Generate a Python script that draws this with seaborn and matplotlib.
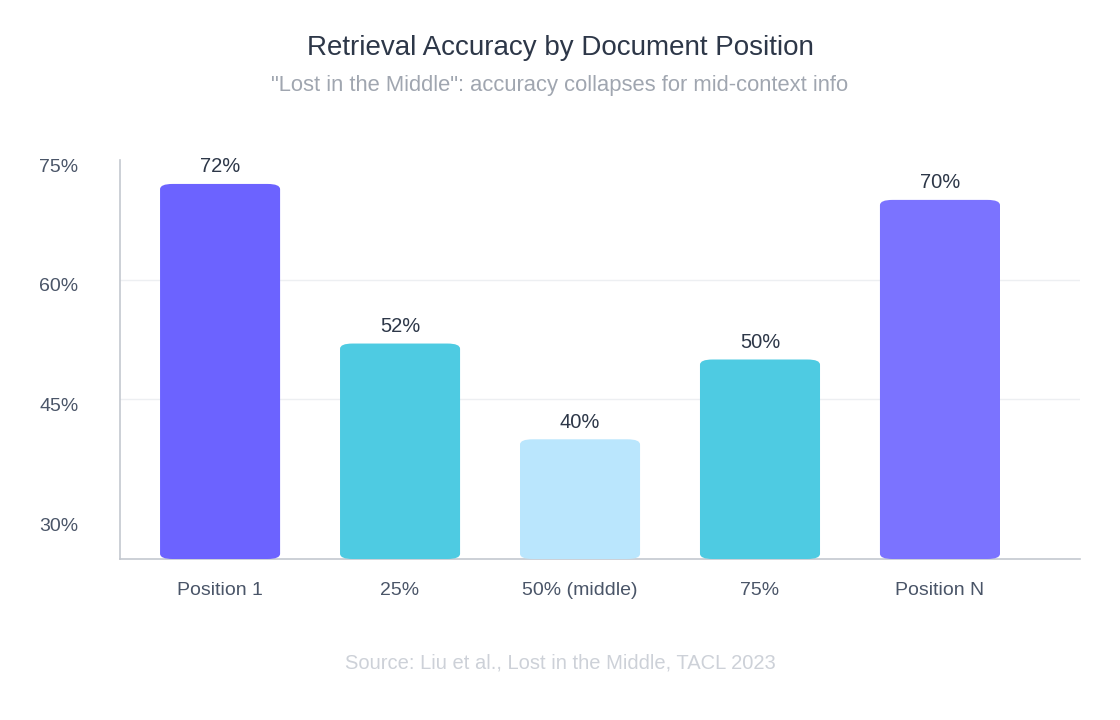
import numpy as np
import pandas as pd
import matplotlib
matplotlib.use("Agg")
import matplotlib.pyplot as plt
import matplotlib.transforms as mtransforms
from matplotlib.patches import FancyBboxPatch
import seaborn as sns

# Retrieval accuracy (%) by where the relevant document sits in the context
positions = ["Position 1", "25%", "50% (middle)", "75%", "Position N"]
accuracy = [72, 52, 40, 50, 70]
bar_colors = ["#6C63FF", "#4ECBE2", "#BAE6FD", "#4ECBE2", "#7B73FF"]
y_ticks = [30, 45, 60, 75]

data = pd.DataFrame({"position": positions, "accuracy": accuracy})

sns.set_style("white")
plt.rcParams["font.family"] = ["Liberation Sans", "DejaVu Sans"]

fig = plt.figure(figsize=(11.2, 7.2), dpi=100)
ax = fig.add_axes([120 / 1120, 161 / 720, 960 / 1120, 399 / 720])

sns.barplot(data=data, x="position", y="accuracy", hue="position",
            palette=bar_colors, legend=False, width=0.667, ax=ax,
            saturation=1)

# swap plain rectangles for rounded ones
ymin = 25
for patch, val in zip(list(ax.patches), accuracy):
    x0, w = patch.get_x(), patch.get_width()
    color = patch.get_facecolor()
    patch.remove()
    rounded = FancyBboxPatch((x0, ymin), w, val - ymin,
                             boxstyle="round,pad=0,rounding_size=0.07",
                             mutation_aspect=8 * 180 / 960 * 6.2,
                             facecolor=color, edgecolor="none", zorder=3)
    ax.add_patch(rounded)
    ax.text(x0 + w / 2, val + 0.95, f"{val}%", ha="center", va="bottom",
            fontsize=14.5, color="#2D3748")

ax.set_ylim(ymin, 75)
ax.set_xlim(-0.556, 4.778)
ax.set_yticks(y_ticks)
ax.set_yticklabels([f"{t}%" for t in y_ticks])
ax.tick_params(axis="y", length=0, pad=30, labelsize=14, labelcolor="#4A5568")
ax.tick_params(axis="x", length=0, pad=16.5, labelsize=14, labelcolor="#4A5568")
offset = mtransforms.ScaledTranslation(0, -5 / 100, fig.dpi_scale_trans)
for lbl in ax.get_yticklabels():
    lbl.set_transform(lbl.get_transform() + offset)

ax.set_xlabel("")
ax.set_ylabel("")

for y in [45, 60]:
    ax.axhline(y, color="#EDEFF2", linewidth=1, zorder=0)

for side in ["top", "right"]:
    ax.spines[side].set_visible(False)
for side in ["left", "bottom"]:
    ax.spines[side].set_color("#C4C8CF")
    ax.spines[side].set_linewidth(1.2)

fig.text(0.5, 1 - 48 / 720, "Retrieval Accuracy by Document Position",
         ha="center", va="center", fontsize=20, color="#2D3748")
fig.text(0.5, 1 - 86 / 720,
         "\"Lost in the Middle\": accuracy collapses for mid-context info",
         ha="center", va="center", fontsize=15.8, color="#A0A6B0")
fig.text(0.5, 1 - 663 / 720, "Source: Liu et al., Lost in the Middle, TACL 2023",
         ha="center", va="center", fontsize=14.5, color="#CDD1D8")

fig.savefig("out.png", dpi=100)
